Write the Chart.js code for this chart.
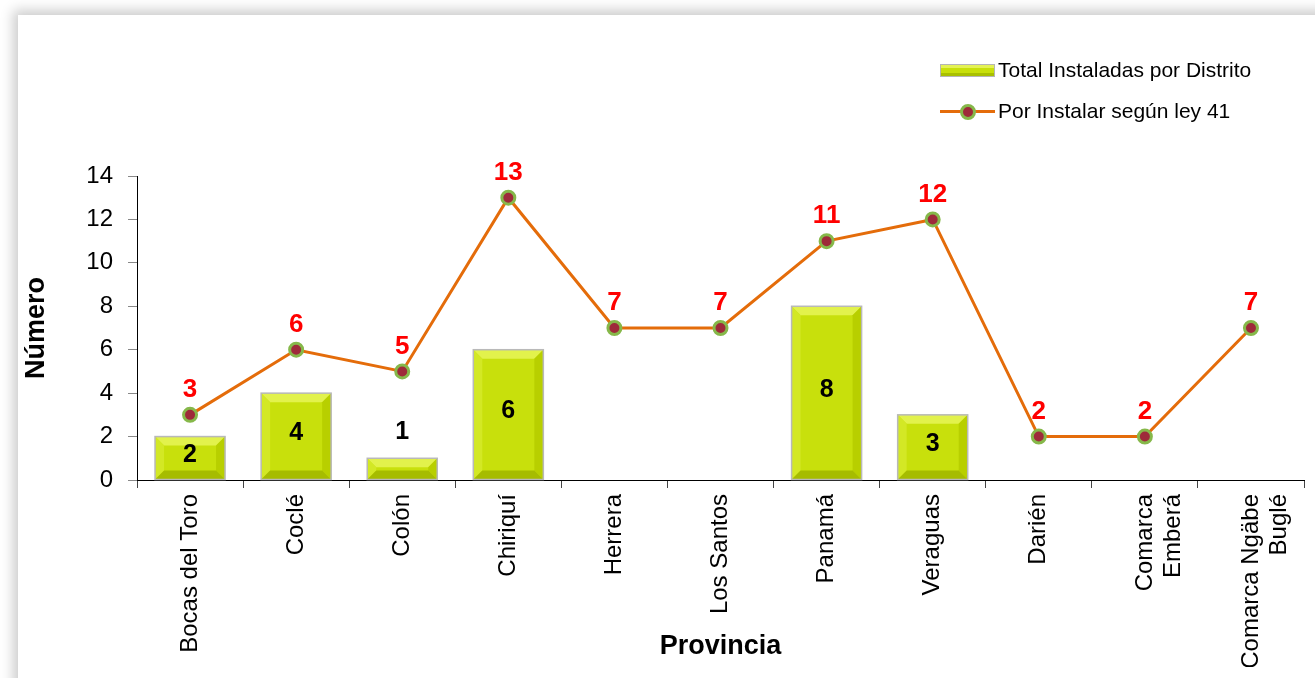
<!DOCTYPE html>
<html lang="es">
<head>
<meta charset="utf-8">
<title>Instaladas por Provincia</title>
<script src="https://cdn.jsdelivr.net/npm/chart.js@4.4.1/dist/chart.umd.min.js"></script>
<style>
  html, body { margin: 0; padding: 0; background: #fff; overflow: hidden; }
  .wrap { position: relative; width: 1315px; height: 678px; overflow: hidden; }
  .panel {
    position: absolute; left: 18px; top: 15px; width: 1330px; height: 700px;
    background: #fff; box-shadow: 0 0 12px 5px rgba(0,0,0,.2);
  }
  #chart { position: absolute; left: 0; top: 0; }
  .legend {
    position: absolute; left: 940px; top: 55px;
    font: 21px "Liberation Sans", Arial, sans-serif; color: #000;
  }
  .legend .item { display: flex; align-items: center; height: 30px; margin-bottom: 11px; }
  .legend .sw { width: 55px; height: 30px; position: relative; margin-right: 3px; }
  .sw-bar {
    position: absolute; left: 0; top: 9px; width: 53px; height: 11px;
    background: linear-gradient(#e4f255 0, #e4f255 25%, #c8e00a 30%, #c8e00a 70%, #a9c000 75%, #a9c000 100%);
    border: 1px solid #b5b5b5;
  }
  .sw-line { position: absolute; left: 0; top: 14px; width: 55px; height: 3px; background: #e46c0a; }
  .sw-dot {
    position: absolute; left: 20px; top: 8px; width: 10px; height: 10px; border-radius: 50%;
    background: #9e2a3a; border: 3px solid #86b84a;
  }
</style>
</head>
<body>
<div class="wrap">
  <div class="panel"></div>
  <canvas id="chart" width="1315" height="678"></canvas>
  <div class="legend">
    <div class="item"><div class="sw"><div class="sw-bar"></div></div><span id="lg0"></span></div>
    <div class="item"><div class="sw"><div class="sw-line"></div><div class="sw-dot"></div></div><span id="lg1"></span></div>
  </div>
</div>
<script>
// DATOS
const provincias = [
  "Bocas del Toro", "Coclé", "Colón", "Chiriquí", "Herrera", "Los Santos",
  "Panamá", "Veraguas", "Darién", ["Comarca", "Emberá"], ["Comarca Ngäbe", "Buglé"]
];
const instaladas = [2, 4, 1, 6, null, null, 8, 3, null, null, null];
const porInstalar = [3, 6, 5, 13, 7, 7, 11, 12, 2, 2, 7];
const yTicks = [0, 2, 4, 6, 8, 10, 12, 14];

const labelBar = "Total Instaladas por Distrito";
const labelLinea = "Por Instalar según ley 41";

document.getElementById("lg0").textContent = labelBar;
document.getElementById("lg1").textContent = labelLinea;

const FONT = '"Liberation Sans", Arial, sans-serif';

// bisel de las barras
const bevelPlugin = {
  id: "bevel",
  afterDatasetDraw(chart, args) {
    if (args.meta.type !== "bar") return;
    const ctx = chart.ctx;
    args.meta.data.forEach((bar, i) => {
      if (instaladas[i] == null) return;
      const l = bar.x - bar.width / 2, r = bar.x + bar.width / 2;
      const t = bar.y, b = bar.base;
      const s = Math.min(9, (b - t) / 2);
      const poly = (pts, color) => {
        ctx.beginPath();
        ctx.moveTo(pts[0][0], pts[0][1]);
        pts.slice(1).forEach(p => ctx.lineTo(p[0], p[1]));
        ctx.closePath();
        ctx.fillStyle = color;
        ctx.fill();
      };
      ctx.save();
      poly([[l, t], [r, t], [r - s, t + s], [l + s, t + s]], "#e2f24c");
      poly([[l, t], [l + s, t + s], [l + s, b - s], [l, b]], "#d3e825");
      poly([[r, t], [r, b], [r - s, b - s], [r - s, t + s]], "#b8cf00");
      poly([[l, b], [l + s, b - s], [r - s, b - s], [r, b]], "#a6bc00");
      ctx.strokeStyle = "#b9b9b9";
      ctx.lineWidth = 1.5;
      ctx.strokeRect(l, t, r - l, b - t);
      ctx.restore();
    });
  }
};

// ETIQUETAS DE DATOS
const valuesPlugin = {
  id: "values",
  afterDatasetsDraw(chart) {
    const ctx = chart.ctx;
    ctx.save();
    ctx.textAlign = "center";
    ctx.textBaseline = "middle";

    const barMeta = chart.getDatasetMeta(0);
    ctx.font = "bold 25px " + FONT;
    ctx.fillStyle = "#000";
    barMeta.data.forEach((bar, i) => {
      const v = instaladas[i];
      if (v == null) return;
      const h = bar.base - bar.y;
      const y = h < 30 ? bar.y - 26 : (bar.y + bar.base) / 2 - 3;
      ctx.fillText(String(v), bar.x, y);
    });

    const lineMeta = chart.getDatasetMeta(1);
    ctx.font = "bold 26px " + FONT;
    ctx.fillStyle = "#ff0000";
    lineMeta.data.forEach((pt, i) => {
      ctx.fillText(String(porInstalar[i]), pt.x, pt.y - 25);
    });
    ctx.restore();
  }
};

const ctx = document.getElementById("chart");

new Chart(ctx, {
  type: "bar",
  data: {
    labels: provincias,
    datasets: [
      {
        label: labelBar,
        data: instaladas,
        backgroundColor: "#c8e00c",
        borderWidth: 0,
        barPercentage: 0.66,
        categoryPercentage: 1,
        order: 1
      },
      {
        type: "line",
        label: labelLinea,
        data: porInstalar,
        borderColor: "#e46c0a",
        borderWidth: 3,
        tension: 0,
        pointRadius: 6.5,
        pointBorderWidth: 3,
        pointBackgroundColor: "#9e2a3a",
        pointBorderColor: "#86b84a",
        order: 0
      }
    ]
  },
  options: {
    responsive: false,
    animation: false,
    devicePixelRatio: 1,
    layout: { padding: { top: 176, right: 6, bottom: 11, left: 0 } },
    plugins: {
      legend: { display: false },
      tooltip: { enabled: false }
    },
    scales: {
      x: {
        offset: true,
        grid: {
          offset: true,
          drawOnChartArea: false,
          drawTicks: true,
          tickLength: 8,
          color: "#444"
        },
        border: { color: "#000", width: 1 },
        ticks: {
          autoSkip: false,
          minRotation: 90,
          maxRotation: 90,
          padding: 6,
          color: "#000",
          font: { family: FONT, size: 24 }
        },
        title: {
          display: true,
          text: "Provincia",
          color: "#000",
          font: { family: FONT, size: 27, weight: "bold" },
          padding: { top: 4, bottom: 4 }
        },
        afterFit(scale) { scale.height = 187; }
      },
      y: {
        min: yTicks[0],
        max: yTicks[yTicks.length - 1],
        grid: {
          drawOnChartArea: false,
          drawTicks: true,
          tickLength: 9,
          color: "#888"
        },
        border: { color: "#000", width: 1 },
        ticks: {
          stepSize: yTicks[1] - yTicks[0],
          padding: 15,
          color: "#000",
          font: { family: FONT, size: 24 }
        },
        title: {
          display: true,
          text: "Número",
          color: "#000",
          font: { family: FONT, size: 27, weight: "bold" },
          padding: { top: 20, bottom: 0 }
        },
        afterFit(scale) { scale.width = 137; }
      }
    }
  },
  plugins: [bevelPlugin, valuesPlugin]
});
</script>
</body>
</html>
